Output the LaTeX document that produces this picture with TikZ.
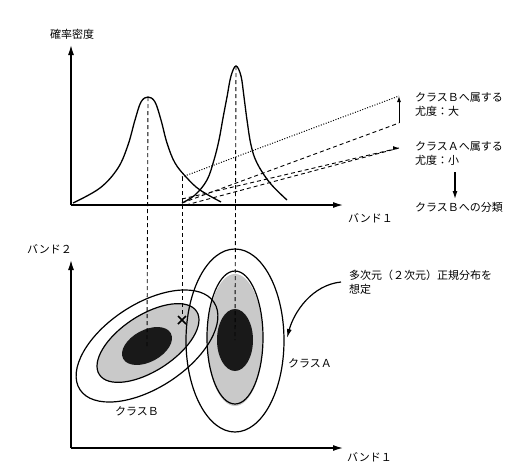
\documentclass[tikz,border=0pt]{standalone}
\usepackage{fontspec}
\newfontfamily\jp{Noto Sans CJK JP}
\usetikzlibrary{arrows.meta,calc}
\begin{document}
\begin{tikzpicture}[x=1pt,y=-1pt,
  axis/.style={line width=1.3pt,-{Latex[length=10pt,width=6pt]}},
  curve/.style={line width=1.3pt},
  ring/.style={line width=1.2pt},
  guide/.style={dashed,dash pattern=on 4pt off 3pt,line width=0.9pt},
  dotline/.style={line width=1pt,dash pattern=on 1pt off 1.6pt},
  smallarrow/.style={line width=1pt,-{Latex[length=6pt,width=4pt]}},
  lbl/.style={font=\jp\fontsize{11}{14}\selectfont,inner sep=0pt,align=left}]
\useasboundingbox (0,0) rectangle (515,464);
\fill[white] (0,0) rectangle (515,464);
% ---------- top plot ----------
\coordinate (o1) at (71,205);
\coordinate (y1) at (71,45);
\coordinate (x1) at (343,205);
\draw[axis] (o1) -- (y1);
\draw[axis] (o1) -- (x1);
\node[lbl] (ylab1) at (72,34) {確率密度};
\node[lbl,anchor=west] (xlab1) at (348,218) {バンド１};
% curve B
\draw[curve] plot[smooth,tension=0.6] coordinates {(73,203) (100,188) (118,168) (128,145) (135,120) (141,102) (148,97) (155,102) (161,120) (167,143) (175,163) (187,178) (200,190) (221,202)};
% curve A
\draw[curve] plot[smooth,tension=0.6] coordinates {(182,203) (195,195) (207,180) (214,160) (219,140) (223,118) (227,97) (231,76) (236,66) (241,76) (244,97) (247,120) (251,145) (257,163) (270,183) (287,200)};
% guide points
\coordinate (pB) at (148,97);
\coordinate (pA) at (236,66);
\coordinate (px) at (182,177);
\coordinate (cB) at (147,346);
\coordinate (cA) at (235,340);
\coordinate (xm) at (182,316);
% likelihood lines
\coordinate (lB) at (182,177);
\coordinate (lA1) at (182,203);
\coordinate (lA2) at (182,199);
\coordinate (lA3) at (186,205);
\coordinate (brT) at (399,96);
\coordinate (brB) at (399,123);
\coordinate (aA) at (399,148);
\draw[dotline] (lB) -- (brT);
\draw[guide] (lA1) -- (brB);
\draw[guide] (lA2) -- (aA);
\draw[guide] (lA3) -- (aA);
\draw[smallarrow] (brB) -- (brT);
\draw[smallarrow] ($(aA)+(-2,0)$) -- (aA);
\node[lbl,anchor=west] (tB) at (415,105) {クラスＢへ属する\\尤度：大};
\node[lbl,anchor=west] (tA) at (415,154) {クラスＡへ属する\\尤度：小};
\node[lbl,anchor=west] (tC) at (415,207) {クラスＢへの分類};
\coordinate (dT) at (455,172);
\coordinate (dB) at (455,199);
\draw[line width=1.2pt,-{Latex[length=8pt,width=5pt]}] (dT) -- (dB);
% ---------- bottom plot ----------
\coordinate (o2) at (71,448);
\coordinate (y2) at (71,260);
\coordinate (x2) at (343,448);
% fills
\fill[gray!42] (cA) ellipse [x radius=28pt,y radius=66pt];
\fill[gray!42,rotate around={33:(148,343)}] (148,343) ellipse [x radius=58pt,y radius=28pt];
\fill[black!90,rotate around={28:(cB)}] (cB) ellipse [x radius=27pt,y radius=16pt];
\fill[black!90] (cA) ellipse [x radius=18pt,y radius=31pt];
% outlines
\draw[ring] (235,340.5) ellipse [x radius=49pt,y radius=91.5pt];
\draw[ring] (235,337.5) ellipse [x radius=28pt,y radius=66.5pt];
\draw[ring,rotate around={33:(cB)}] (cB) ellipse [x radius=80pt,y radius=42pt];
\draw[ring,rotate around={33:(148,343)}] (148,343) ellipse [x radius=58pt,y radius=28pt];
% guides
\draw[guide] (pB) -- (cB);
\draw[guide] (px) -- (xm);
\draw[guide] (pA) -- (cA);
% cross mark
\coordinate (cross) at (182,320);
\draw[line width=1.6pt] ($(cross)+(-4,-4)$) -- ($(cross)+(4,4)$) ($(cross)+(4,-4)$) -- ($(cross)+(-4,4)$);
\draw[axis] (o2) -- (y2);
\draw[axis] (o2) -- (x2);
\node[lbl,anchor=west] (ylab2) at (27,249) {バンド２};
\node[lbl,anchor=west] (xlab2) at (347,457) {バンド１};
\node[lbl] (cBl) at (137,411) {クラスＢ};
\node[lbl] (cAl) at (310,363) {クラスＡ};
\node[lbl,anchor=west] (note) at (349,282) {多次元（２次元）正規分布を\\想定};
\coordinate (nS) at (341,282);
\coordinate (nE) at (287,338);
\draw[line width=1.2pt,-{Latex[length=9pt,width=5pt]}] (nS) .. controls (312,285) and (294,312) .. (nE);
\end{tikzpicture}
\end{document}
